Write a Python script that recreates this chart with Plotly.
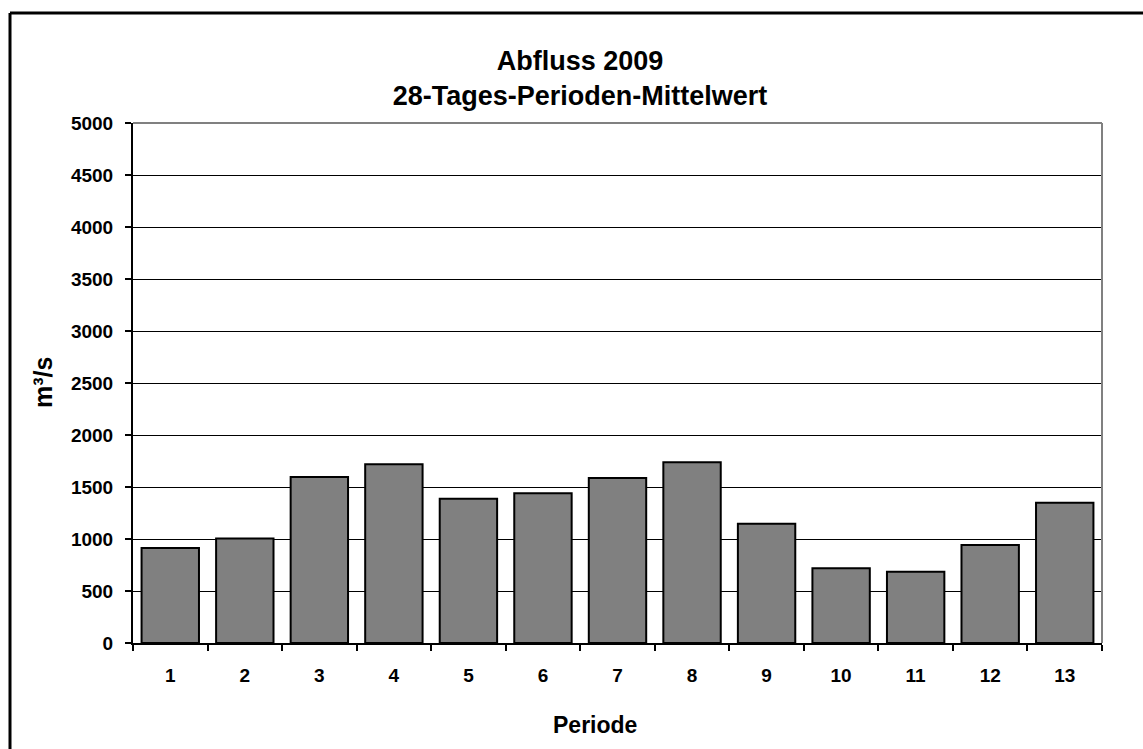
import plotly.graph_objects as go

# 28-day period means of discharge, 2009
perioden = ["1", "2", "3", "4", "5", "6", "7", "8", "9", "10", "11", "12", "13"]
abfluss = [913, 1006, 1596, 1718, 1388, 1439, 1587, 1737, 1147, 718, 686, 942, 1349]
y_ticks = [0, 500, 1000, 1500, 2000, 2500, 3000, 3500, 4000, 4500, 5000]

W, H = 1143, 749
ML, MR, MT, MB = 133, 41, 123, 106
PW, PH = W - ML - MR, H - MT - MB


def px_x(px):
    return (px - ML) / PW


def px_y(py):
    return (H - MB - py) / PH


FONT = "Liberation Sans, Arial, sans-serif"

fig = go.Figure(
    go.Bar(
        x=perioden,
        y=abfluss,
        marker=dict(color="#808080", line=dict(color="#000000", width=2)),
    )
)

fig.update_layout(
    width=W,
    height=H,
    margin=dict(l=ML, r=MR, t=MT, b=MB, pad=0),
    paper_bgcolor="white",
    plot_bgcolor="white",
    bargap=0.23,
    showlegend=False,
    font=dict(family=FONT, color="#000000"),
    title=dict(
        text="<b>Abfluss 2009<br>28-Tages-Perioden-Mittelwert</b>",
        font=dict(family=FONT, size=27, color="#000000"),
        x=580 / W,
        xref="container",
        xanchor="center",
        y=1 - 70 / H,
        yref="container",
        yanchor="top",
    ),
    xaxis=dict(
        type="category",
        tickvals=perioden,
        ticktext=[f"<b>{p}</b>" for p in perioden],
        tickson="boundaries",
        ticks="outside",
        ticklen=6,
        tickwidth=2,
        tickcolor="#000000",
        showline=True,
        linecolor="#000000",
        linewidth=2,
        showgrid=False,
        tickfont=dict(family=FONT, size=19, color="#000000"),
        ticklabelstandoff=14,
    ),
    yaxis=dict(
        range=[0, 5000],
        tickvals=y_ticks,
        ticktext=[f"<b>{v}</b>" for v in y_ticks],
        ticks="outside",
        ticklen=6,
        tickwidth=2,
        tickcolor="#000000",
        showline=True,
        linecolor="#000000",
        linewidth=2,
        showgrid=True,
        gridcolor="#000000",
        gridwidth=1,
        zeroline=False,
        tickfont=dict(family=FONT, size=19, color="#000000"),
        ticklabelstandoff=8,
    ),
    annotations=[
        dict(
            text="<b>Periode</b>",
            x=px_x(595),
            y=px_y(725),
            xref="paper",
            yref="paper",
            xanchor="center",
            yanchor="middle",
            showarrow=False,
            font=dict(family=FONT, size=23, color="#000000"),
        ),
        dict(
            text="<b>m³/s</b>",
            x=px_x(43),
            y=0.5,
            xref="paper",
            yref="paper",
            xanchor="center",
            yanchor="middle",
            textangle=-90,
            showarrow=False,
            font=dict(family=FONT, size=25, color="#000000"),
        ),
    ],
    shapes=[
        # plot-area frame on top and right
        dict(type="line", xref="paper", yref="paper", x0=0, x1=1, y0=1, y1=1,
             line=dict(color="#808080", width=2), layer="above"),
        dict(type="line", xref="paper", yref="paper", x0=1, x1=1, y0=0, y1=1,
             line=dict(color="#808080", width=2), layer="above"),
        # outer chart border (top and left)
        dict(type="line", xref="paper", yref="paper",
             x0=px_x(10), x1=px_x(1160), y0=px_y(13), y1=px_y(13),
             line=dict(color="#000000", width=3)),
        dict(type="line", xref="paper", yref="paper",
             x0=px_x(10), x1=px_x(10), y0=px_y(13), y1=px_y(760),
             line=dict(color="#000000", width=3)),
    ],
)

fig.write_html("out.html")
